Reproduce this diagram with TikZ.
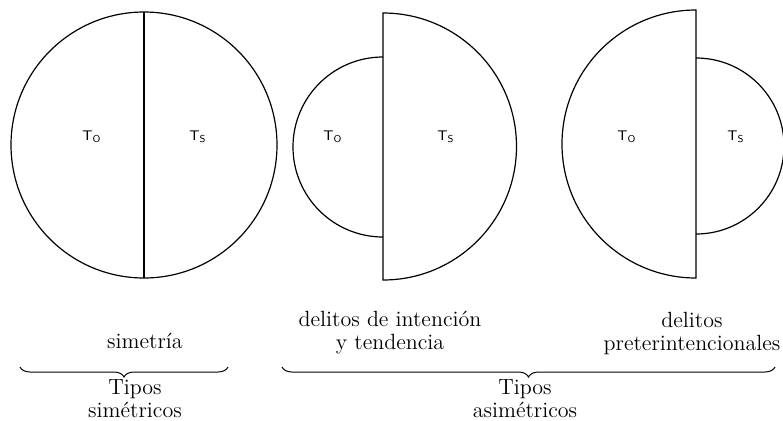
\documentclass[tikz,border=0pt]{standalone}
\usepackage{tikz}
\usetikzlibrary{decorations.pathreplacing,positioning}
\tikzset{
  figline/.style={line width=0.6pt,black},
  tlabel/.style={font=\scriptsize\sffamily,inner sep=1pt},
  caption/.style={font=\fontsize{11}{11.5}\selectfont,align=center,inner sep=0pt},
  bracedown/.style={line width=0.5pt,decorate,decoration={brace,amplitude=5pt}}
}
\newcommand{\tsub}[1]{T\textsubscript{#1}}

\begin{document}
\begin{tikzpicture}[x=0.5pt,y=0.5pt]
        \useasboundingbox (0,0) rectangle (783,420);
        % simetria: full circle
        \draw[figline] (144,275) circle (133);
        \draw[figline] (144,408) -- (144,142);
        \node[tlabel] (to1) at (92,283) {\tsub{O}};
        \node[tlabel] (ts1) at (198,283) {\tsub{S}};
        % intencion y tendencia
        \draw[figline] (383,363) arc (90:270:90);
        \draw[figline] (383,407) arc (90:-90:133.5) -- cycle;
        \node[tlabel] (to2) at (333,283) {\tsub{O}};
        \node[tlabel] (ts2) at (446,283) {\tsub{S}};
        % preterintencionales
        \draw[figline] (696,410) arc (90:270:134) -- cycle;
        \draw[figline] (696,362) arc (90:-90:88);
        \node[tlabel] (to3) at (627,283) {\tsub{O}};
        \node[tlabel] (ts3) at (736,283) {\tsub{S}};
        % captions
        \node[caption] (sim) at (145,79) {simetría};
        \node[caption] (dint) at (390,87) {delitos de intención\\y tendencia};
        \node[caption] (dpre) at (692,87) {delitos\\preterintencionales};
        \coordinate (b1l) at (20,53);
        \coordinate (b1r) at (228,53);
        \coordinate (b2l) at (282,53);
        \coordinate (b2r) at (775,53);
        \draw[bracedown] (b1r) -- (b1l);
        \draw[bracedown] (b2r) -- (b2l);
        \node[caption] (tsim) at (135,21) {Tipos\\simétricos};
        \node[caption] (tasim) at (525,21) {Tipos\\asimétricos};
      \end{tikzpicture}
\end{document}
